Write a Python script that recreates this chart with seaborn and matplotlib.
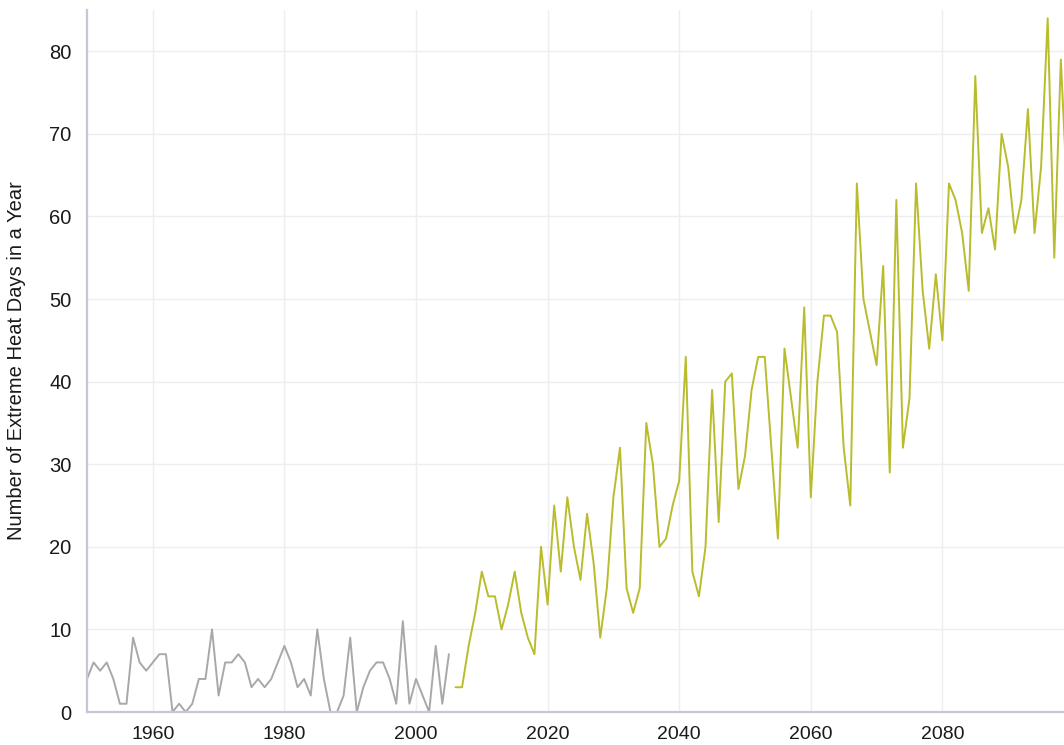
import matplotlib
matplotlib.use("Agg")
import matplotlib.pyplot as plt
import seaborn as sns
import pandas as pd

hist_years = list(range(1950, 2006))
hist_values = [4, 6, 5, 6, 4, 1, 1, 9, 6, 5, 6, 7, 7, 0, 1, 0, 1, 4, 4, 10,
               2, 6, 6, 7, 6, 3, 4, 3, 4, 6, 8, 6, 3, 4, 2, 10, 4, 0, 0, 2,
               9, 0, 3, 5, 6, 6, 4, 1, 11, 1, 4, 2, 0, 8, 1, 7]

proj_years = list(range(2006, 2100))
proj_values = [3, 3, 8, 12, 17, 14, 14, 10, 13, 17, 12, 9, 7, 20, 13, 25, 17, 26, 20, 16,
               24, 18, 9, 15, 26, 32, 15, 12, 15, 35, 30, 20, 21, 25, 28, 43, 17, 14, 20, 39,
               23, 40, 41, 27, 31, 39, 43, 43, 32, 21, 44, 38, 32, 49, 26, 40, 48, 48, 46, 32,
               25, 64, 50, 46, 42, 54, 29, 62, 32, 38, 64, 51, 44, 53, 45, 64, 62, 58, 51, 77,
               58, 61, 56, 70, 66, 58, 62, 73, 58, 66, 84, 55, 79, 62]

y_ticks = [0, 10, 20, 30, 40, 50, 60, 70, 80]
x_ticks = [1960, 1980, 2000, 2020, 2040, 2060, 2080]
y_label = "Number of Extreme Heat Days in a Year"

df = pd.concat([
    pd.DataFrame({"year": hist_years, "days": hist_values, "period": "Historical"}),
    pd.DataFrame({"year": proj_years, "days": proj_values, "period": "Projected"}),
])

sns.set_theme(style="white")
plt.rcParams["font.family"] = ["Liberation Sans", "DejaVu Sans"]

fig = plt.figure(figsize=(10.64, 7.45), dpi=100)
ax = fig.add_axes([87 / 1064, 33 / 745, 987 / 1064, 702 / 745])

sns.lineplot(data=df, x="year", y="days", hue="period",
             palette={"Historical": "#a8a8a8", "Projected": "#b9bc2c"},
             linewidth=1.4, legend=False, ax=ax)

ax.set_xlim(1950, 2100)
ax.set_ylim(0, 85)
ax.set_xticks(x_ticks)
ax.set_yticks(y_ticks)
ax.grid(True, color="#eceef2", linewidth=1.0)
ax.set_axisbelow(True)

grid_c = "#e4e6ec"
ax.tick_params(axis="both", length=7, width=1.0, color=grid_c,
               labelsize=14.5, labelcolor="#1a1a1a", pad=4)
ax.tick_params(axis="x", pad=3, labelsize=14)
for s in ["top", "right"]:
    ax.spines[s].set_visible(False)
for s in ["left", "bottom"]:
    ax.spines[s].set_color("#c4c7d9")
    ax.spines[s].set_linewidth(1.6)

ax.set_xlabel("")
ax.set_ylabel(y_label, fontsize=14.5, color="#1a1a1a")
ax.yaxis.set_label_coords(-0.062, 0.5)

fig.savefig("out.png", dpi=100)
